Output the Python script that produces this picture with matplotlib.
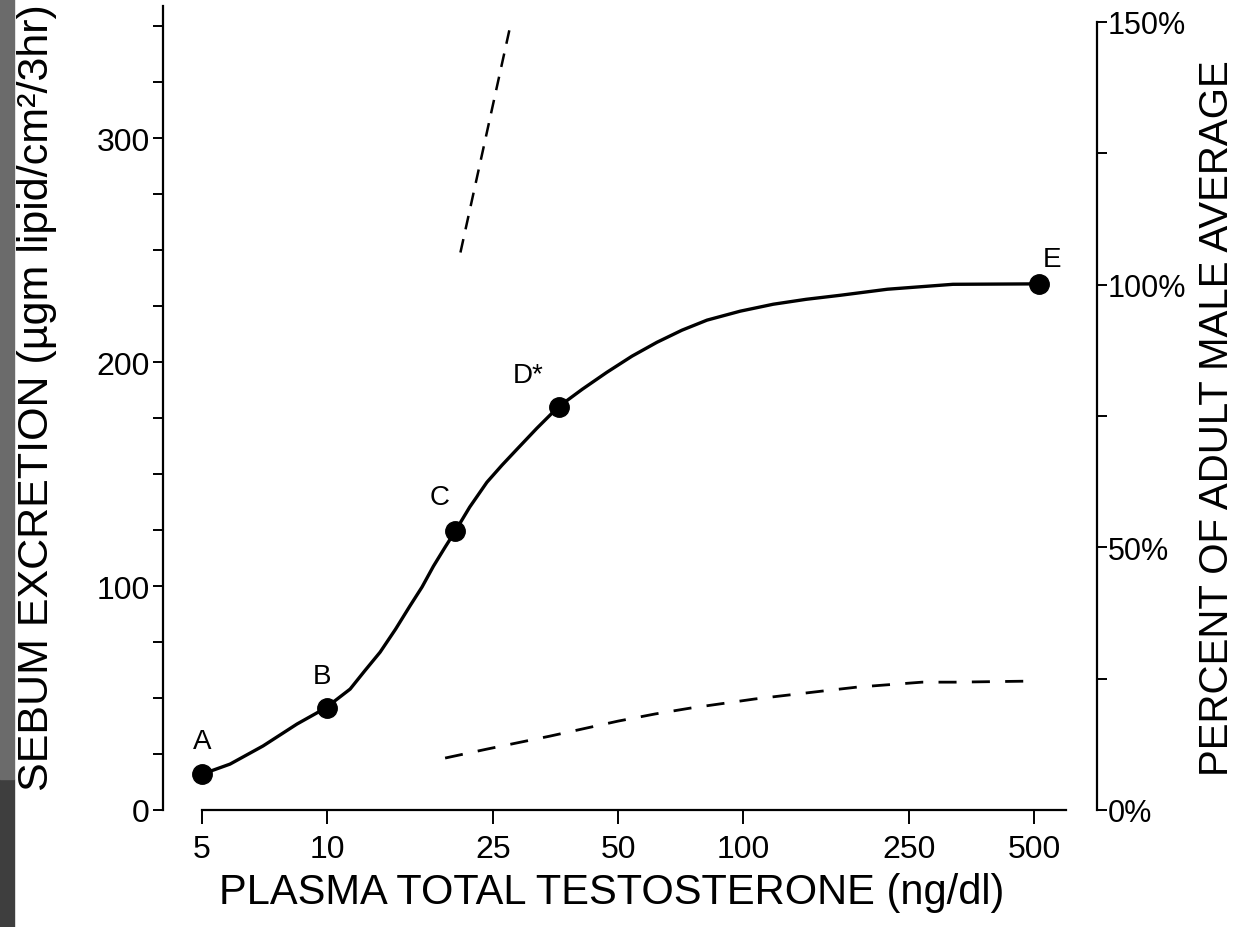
import matplotlib
matplotlib.use("Agg")
import matplotlib.pyplot as plt
from matplotlib.patches import Rectangle
from matplotlib.ticker import FixedLocator, NullFormatter, NullLocator

# measured points (testosterone ng/dl, sebum ug/cm2/3hr)
point_x = [5, 10, 20.3, 36, 515]
point_y = [16, 45.5, 124.5, 180, 235]
point_names = ["A", "B", "C", "D*", "E"]

# solid fitted curve
curve_x = [5, 5.84, 7.01, 8.46, 9.9, 11.35, 12.3, 13.4, 14.6, 15.8, 16.9, 18.0,
           19.2, 20.3, 22.0, 24.2, 26.3, 28.6, 31.9, 35.9, 41.0, 47.0, 54.0,
           62.0, 71.2, 81.8, 98.3, 118, 141.6, 171, 222, 319, 515]
curve_y = [16, 20.5, 28.6, 38.4, 45.5, 54.0, 62.1, 70.5, 80.8, 91.1, 99.6, 108.9,
           117.4, 124.5, 135.3, 146.4, 154.0, 161.2, 170.5, 180, 187.9, 195.5, 202.7,
           208.9, 214.3, 218.8, 222.8, 225.9, 228.1, 229.9, 232.6, 234.8, 235]

# dashed lines
low_x = [19.2, 24.2, 34.3, 50, 61.4, 74.5, 106.7, 154.5, 188, 269, 323, 503]
low_y = [23.2, 27.2, 33, 39.7, 42.9, 45.5, 49.6, 53.1, 54.9, 57.1, 57.1, 57.6]
steep_x = [20.9, 27.6]
steep_y = [249, 351]

x_ticks = [5, 10, 25, 50, 100, 250, 500]
x_ticklabels = ["5", "10", "25", "50", "100", "250", "500"]
y_ticks = [0, 100, 200, 300]
pct_ticks = [0, 50, 100, 150]
pct_ticklabels = ["0%", "50%", "100%", "150%"]

font = ["Liberation Sans", "DejaVu Sans"]

W, H = 1237, 928
fig = plt.figure(figsize=(W / 100, H / 100), dpi=100)
fig.patch.set_facecolor("white")

# scanned edge strip on the left
fig.patches.append(Rectangle((0, 0), 14 / W, 1 - 780 / H, transform=fig.transFigure,
                             color="#3e3e3e", zorder=0))
fig.patches.append(Rectangle((0, 1 - 780 / H), 14 / W, 780 / H, transform=fig.transFigure,
                             color="#6b6b6b", zorder=0))

ax = fig.add_axes([163 / W, (H - 811) / H, (1097 - 163) / W, (811 - 5) / H])
ax.set_xscale("log")
ax.set_xlim(4.03, 708)
ax.set_ylim(0, 360)

for s in ["top", "right"]:
    ax.spines[s].set_visible(False)
ax.spines["bottom"].set_bounds(5, 597)
ax.spines["left"].set_bounds(0, 359)
for s in ["bottom", "left"]:
    ax.spines[s].set_linewidth(1.6)

ax.xaxis.set_major_locator(FixedLocator(x_ticks))
ax.xaxis.set_minor_locator(NullLocator())
ax.set_xticklabels(x_ticklabels, fontfamily=font, fontsize=23)
ax.tick_params(axis="x", direction="out", length=10, width=1.4, pad=7)

ax.yaxis.set_major_locator(FixedLocator(y_ticks))
ax.yaxis.set_minor_locator(FixedLocator(range(25, 360, 25)))
ax.yaxis.set_minor_formatter(NullFormatter())
ax.set_yticklabels([str(v) for v in y_ticks], fontfamily=font, fontsize=23)
ax.tick_params(axis="y", which="both", direction="out", length=7.5, width=1.4, pad=2)

ax.plot(curve_x, curve_y, color="black", lw=2.4, solid_joinstyle="round",
        solid_capstyle="round", zorder=3)
ax.plot(point_x, point_y, "o", color="black", ms=14, zorder=4)
ax.plot(low_x, low_y, color="black", lw=2.0, linestyle=(0, (6.5, 5.5)))
ax.plot(steep_x, steep_y, color="black", lw=1.8, linestyle=(0, (5.5, 4.0)))

offsets = [(0, 24), (-4, 23), (-11, 25), (-22, 23), (9, 18)]
for x, y, name, off in zip(point_x, point_y, point_names, offsets):
    ax.annotate(name, (x, y), xytext=off, textcoords="offset points",
                ha="center", va="center", fontsize=20, fontfamily=font)

# right hand percent axis
ax2 = ax.twinx()
ax2.set_ylim(0, 360 * 150 / 352)
for s in ["top", "left", "bottom"]:
    ax2.spines[s].set_visible(False)
ax2.spines["right"].set_bounds(0, 150)
ax2.spines["right"].set_linewidth(1.6)
ax2.yaxis.set_major_locator(FixedLocator(pct_ticks))
ax2.yaxis.set_minor_locator(FixedLocator([25, 75, 125]))
ax2.yaxis.set_minor_formatter(NullFormatter())
ax2.set_yticklabels(pct_ticklabels, fontfamily=font, fontsize=22)
ax2.tick_params(axis="y", which="both", direction="out", length=7, width=1.4, pad=1)

fig.text(37 / W, 1 - 398 / H, "SEBUM EXCRETION (µgm lipid/cm²/3hr)", rotation=90,
         ha="center", va="center", fontsize=31, fontfamily=font)
fig.text(612 / W, 1 - 893 / H, "PLASMA TOTAL TESTOSTERONE (ng/dl)",
         ha="center", va="center", fontsize=30, fontfamily=font)
fig.text(1217 / W, 1 - 418 / H, "PERCENT OF ADULT MALE AVERAGE", rotation=90,
         ha="center", va="center", fontsize=29, fontfamily=font)

fig.savefig("out.png", dpi=100)
